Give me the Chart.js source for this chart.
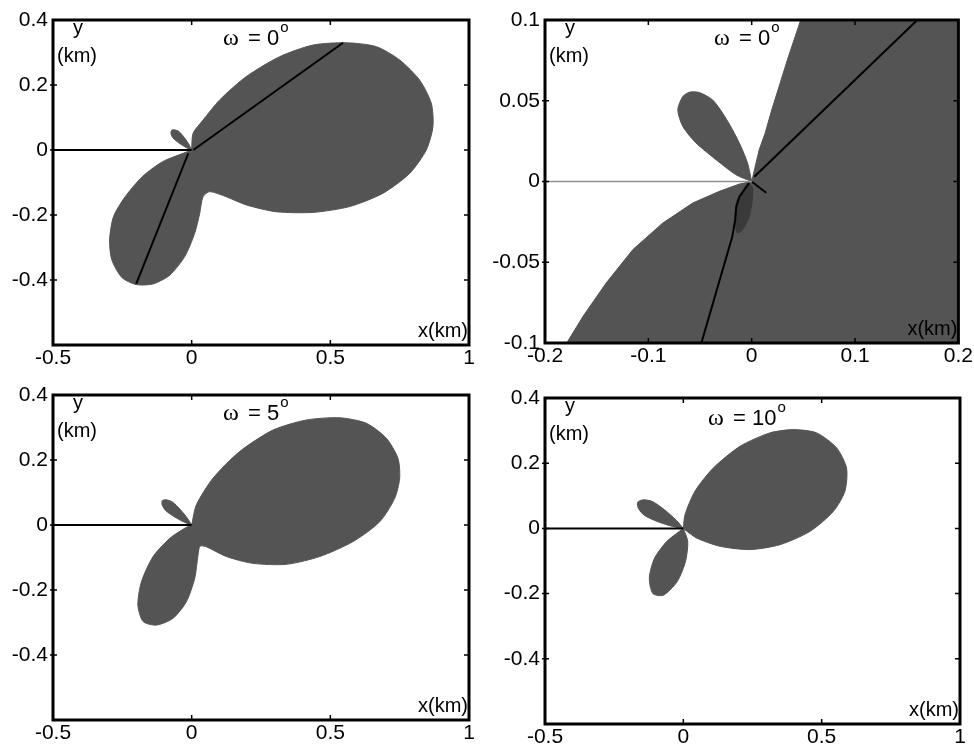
<!DOCTYPE html>
<html>
<head>
<meta charset="utf-8">
<script src="https://cdn.jsdelivr.net/npm/chart.js@4.4.0/dist/chart.umd.min.js"></script>
<style>
  body { margin: 0; background: #fff; }
  .panel { position: absolute; width: 487px; height: 375px; }
</style>
</head>
<body>
<div class="panel" style="left:0;top:0"><canvas id="c1" width="487" height="375"></canvas></div>
<div class="panel" style="left:487px;top:0"><canvas id="c2" width="487" height="375"></canvas></div>
<div class="panel" style="left:0;top:375px"><canvas id="c3" width="487" height="375"></canvas></div>
<div class="panel" style="left:487px;top:375px"><canvas id="c4" width="487" height="375"></canvas></div>
<script>
// ---- data (km) ----
// panel 1 : omega = 0, full view
const p1MainLobe = [[0,0],[0.005,0.051],[0.041,0.092],[0.101,0.154],[0.197,0.226],[0.317,0.287],[0.438,0.323],[0.558,0.330],[0.666,0.318],[0.75,0.277],[0.822,0.215],[0.864,0.144],[0.87,0.072],[0.846,0],[0.786,-0.072],[0.69,-0.133],[0.57,-0.174],[0.438,-0.192],[0.305,-0.19],[0.197,-0.169],[0.125,-0.144],[0.065,-0.128],[0.041,-0.144],[0.029,-0.195],[0.011,-0.256],[-0.025,-0.328],[-0.079,-0.385],[-0.139,-0.412],[-0.2,-0.414],[-0.252,-0.392],[-0.288,-0.338],[-0.296,-0.277],[-0.282,-0.205],[-0.24,-0.144],[-0.178,-0.082],[-0.105,-0.036],[-0.03,-0.01],[0,0]];
const p1SmallLobe = [[0,0],[-0.009,0.016],[-0.0255,0.0373],[-0.0448,0.0562],[-0.0612,0.0622],[-0.0728,0.0603],[-0.0746,0.0504],[-0.0672,0.0366],[-0.0445,0.0207],[-0.019,0.0072],[0,0]];
const p1Axis = [[-0.5,0],[0,0]];
const p1BeamUp = [[0.006,0],[0.546,0.33]];
const p1BeamDown = [[-0.012,-0.01],[-0.2,-0.412]];

// panel 2 : omega = 0, zoom near the origin
const p2MainRegion = [[0,0],[0.0034,0.0093],[0.0072,0.0196],[0.013,0.0299],[0.0194,0.0444],[0.0265,0.0588],[0.0345,0.0753],[0.0474,0.1],[0.055,0.115],[0.25,0.115],[0.25,-0.115],[-0.188,-0.115],[-0.179,-0.1],[-0.163,-0.0833],[-0.1406,-0.0627],[-0.1149,-0.0421],[-0.086,-0.0257],[-0.057,-0.0133],[-0.0313,-0.0061],[-0.012,-0.0016],[0,0]];
const p2SmallLobe = [[0,0],[-0.004,0.0114],[-0.0104,0.0217],[-0.0185,0.032],[-0.0281,0.0423],[-0.0378,0.0505],[-0.0506,0.0551],[-0.0602,0.0553],[-0.0667,0.0526],[-0.0715,0.0444],[-0.0667,0.0341],[-0.0538,0.0238],[-0.0345,0.0135],[-0.0153,0.0042],[0,0]];
const p2DarkLobe = [[-0.0043,-0.0009],[0.0005,-0.0034],[0.0005,-0.0114],[-0.0024,-0.0219],[-0.0091,-0.030],[-0.014,-0.0318],[-0.0159,-0.0257],[-0.0149,-0.0133],[-0.0101,-0.0071],[-0.0043,-0.0009]];
const p2Axis = [[-0.2,0],[0,0]];
const p2BeamUp = [[0.0025,0.003],[0.17,0.106]];
const p2BeamDown = [[-0.0024,-0.0009],[-0.012,-0.0096],[-0.015,-0.0158],[-0.016,-0.0238],[-0.0188,-0.0343],[-0.0487,-0.1],[-0.051,-0.105]];
const p2Stub = [[0.0005,-0.0003],[0.014,-0.007]];

// panel 3 : omega = 5
const p3MainLobe = [[0,0],[0.017,0.062],[0.077,0.144],[0.173,0.226],[0.293,0.292],[0.413,0.323],[0.534,0.330],[0.63,0.313],[0.702,0.267],[0.744,0.205],[0.75,0.144],[0.732,0.082],[0.678,0.010],[0.582,-0.051],[0.462,-0.097],[0.341,-0.121],[0.221,-0.118],[0.125,-0.097],[0.053,-0.067],[0.03,-0.065],[0.023,-0.092],[0.011,-0.164],[-0.019,-0.236],[-0.067,-0.287],[-0.127,-0.308],[-0.175,-0.297],[-0.194,-0.246],[-0.181,-0.174],[-0.139,-0.097],[-0.079,-0.041],[-0.025,-0.010],[0,0]];
const p3SmallLobe = [[0,0],[-0.0148,0.0203],[-0.0404,0.047],[-0.0691,0.0706],[-0.0914,0.0776],[-0.1061,0.0749],[-0.1064,0.062],[-0.0941,0.0446],[-0.0616,0.025],[-0.026,0.0085],[0,0]];
const p3Axis = [[-0.5,0],[0,0]];

// panel 4 : omega = 10
const p4MainLobe = [[0,0],[0.006,0.042],[0.042,0.114],[0.108,0.185],[0.205,0.252],[0.313,0.293],[0.398,0.303],[0.482,0.293],[0.554,0.247],[0.59,0.185],[0.584,0.114],[0.542,0.052],[0.458,-0.009],[0.349,-0.05],[0.241,-0.065],[0.133,-0.055],[0.049,-0.030],[0.013,-0.009],[0,0]];
const p4LowerLobe = [[0,0],[0.016,-0.04],[0.008,-0.101],[-0.022,-0.163],[-0.072,-0.205],[-0.11,-0.2],[-0.123,-0.152],[-0.104,-0.091],[-0.06,-0.04],[-0.014,-0.009],[0,0]];
const p4SmallLobe = [[0,0],[-0.0255,0.025],[-0.0675,0.0567],[-0.1131,0.083],[-0.1457,0.0875],[-0.1654,0.0801],[-0.1627,0.0619],[-0.1413,0.0402],[-0.0915,0.0203],[-0.0381,0.0058],[0,0]];
const p4Axis = [[-0.5,0],[0,0]];

// axis ranges / tick steps
const wideX = { min: -0.5, max: 1, step: 0.5 };
const wideY = { min: -0.6, max: 0.4, step: 0.2 };
const zoomX = { min: -0.2, max: 0.2, step: 0.1 };
const zoomY = { min: -0.1, max: 0.1, step: 0.05 };
const omegaLabels = ['0', '0', '5', '10'];

const GRAY = '#545454';
const SANS = '"Liberation Sans", Arial, sans-serif';

const toXY = arr => arr.map(p => ({ x: p[0], y: p[1] }));

function lobe(arr, color, tension) {
  return {
    data: toXY(arr), showLine: true, fill: 'shape',
    backgroundColor: color || GRAY, borderColor: color || GRAY,
    borderWidth: 1, pointRadius: 0, tension: tension === undefined ? 0.25 : tension, order: 5
  };
}

function line(arr, color, width) {
  return {
    data: toXY(arr), showLine: true, fill: false,
    borderColor: color || '#000', borderWidth: width || 2,
    pointRadius: 0, tension: 0, order: 1
  };
}

function fmt(v) {
  if (Math.abs(v) < 1e-9) return '0';
  return String(parseFloat(v.toFixed(3)));
}

// frame, inward ticks and the in-plot texts
const panelText = {
  id: 'panelText',
  afterDraw(chart, args, opts) {
    const { ctx, chartArea: a, scales } = chart;
    ctx.save();
    // inward ticks
    ctx.strokeStyle = '#000';
    ctx.lineWidth = 1.5;
    scales.x.ticks.forEach(t => {
      const px = scales.x.getPixelForValue(t.value);
      if (px <= a.left + 2 || px >= a.right - 2) return;
      ctx.beginPath();
      ctx.moveTo(px, a.top); ctx.lineTo(px, a.top + 5);
      ctx.moveTo(px, a.bottom); ctx.lineTo(px, a.bottom - 5);
      ctx.stroke();
    });
    scales.y.ticks.forEach(t => {
      const py = scales.y.getPixelForValue(t.value);
      if (py <= a.top + 2 || py >= a.bottom - 2) return;
      ctx.beginPath();
      ctx.moveTo(a.left - 3, py); ctx.lineTo(a.left + 4, py);
      ctx.moveTo(a.right, py); ctx.lineTo(a.right - 5, py);
      ctx.stroke();
    });
    // box
    ctx.lineWidth = 3;
    ctx.strokeRect(a.left, a.top, a.right - a.left, a.bottom - a.top);

    ctx.fillStyle = '#000';
    ctx.textBaseline = 'alphabetic';
    // omega label
    let x = a.left + opts.omegaX;
    const base = a.top + opts.omegaY;
    ctx.font = '24px "Liberation Serif", serif';
    ctx.textAlign = 'left';
    ctx.fillText('\u03c9', x, base);
    x += 25;
    ctx.font = '22px ' + SANS;
    const main = '= ' + opts.omega;
    ctx.fillText(main, x, base);
    x += ctx.measureText(main).width + 1;
    ctx.font = '15px ' + SANS;
    ctx.fillText('o', x, base - 13);
    // axis names
    ctx.font = '20px ' + SANS;
    ctx.fillText('y', a.left + 20, a.top + 14);
    ctx.fillText('(km)', a.left + 4, a.top + 42);
    ctx.textAlign = 'right';
    ctx.fillText('x(km)', a.right - 1, a.bottom - 8);
    ctx.restore();
  }
};

function makeChart(id, datasets, rx, ry, box, text) {
  return new Chart(document.getElementById(id), {
    type: 'scatter',
    data: { datasets },
    options: {
      responsive: false,
      animation: false,
      layout: { padding: { left: 0, top: box.top, right: box.right, bottom: 0 } },
      plugins: { legend: { display: false }, tooltip: { enabled: false }, panelText: text },
      scales: {
        x: {
          type: 'linear', min: rx.min, max: rx.max,
          afterFit: s => { s.height = box.bottom; },
          border: { display: false },
          grid: { display: false, drawTicks: false },
          ticks: { stepSize: rx.step, autoSkip: false, maxRotation: 0, padding: 1, color: '#000',
                   font: { family: SANS, size: 21 }, callback: v => fmt(v) }
        },
        y: {
          type: 'linear', min: ry.min, max: ry.max,
          afterFit: s => { s.width = box.left; },
          border: { display: false },
          grid: { display: false, drawTicks: false },
          ticks: { stepSize: ry.step, autoSkip: false, padding: 5, color: '#000',
                   font: { family: SANS, size: 21 },
                   callback: v => (Math.abs(v - ry.min) < 1e-9 && ry.min === -0.6) ? '' : fmt(v) }
        }
      }
    },
    plugins: [panelText]
  });
}

makeChart('c1', [
  line(p1Axis), line(p1BeamUp), line(p1BeamDown),
  lobe(p1MainLobe), lobe(p1SmallLobe)
], wideX, wideY, { left: 53, top: 20, right: 18, bottom: 30 }, { omega: omegaLabels[0], omegaX: 170, omegaY: 25 });

makeChart('c2', [
  line(p2Axis, '#8f8f8f', 1.5), line(p2BeamUp), line(p2BeamDown), line(p2Stub),
  Object.assign(lobe(p2DarkLobe, '#3a3a3a'), { order: 3 }),
  lobe(p2MainRegion, GRAY, 0), lobe(p2SmallLobe)
], zoomX, zoomY, { left: 58, top: 20, right: 14, bottom: 32 }, { omega: omegaLabels[1], omegaX: 169, omegaY: 25 });

makeChart('c3', [
  line(p3Axis), lobe(p3MainLobe), lobe(p3SmallLobe)
], wideX, wideY, { left: 53, top: 20, right: 18, bottom: 30 }, { omega: omegaLabels[2], omegaX: 170, omegaY: 25 });

makeChart('c4', [
  line(p4Axis), lobe(p4MainLobe), lobe(p4LowerLobe), lobe(p4SmallLobe)
], wideX, wideY, { left: 58, top: 23, right: 14, bottom: 26 }, { omega: omegaLabels[3], omegaX: 163, omegaY: 27 });
</script>
</body>
</html>
